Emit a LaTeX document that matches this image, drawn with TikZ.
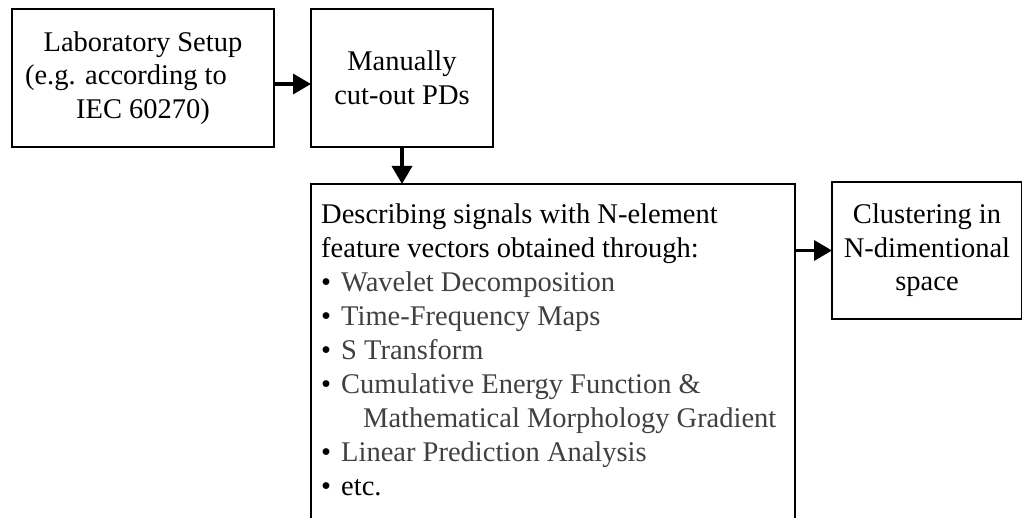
\documentclass[tikz,border=0pt]{standalone}
\usepackage{fontspec}
\setmainfont{Liberation Serif}
\usetikzlibrary{arrows.meta}
\definecolor{itemgray}{HTML}{404040}
\tikzset{
  stagebox/.style={draw, line width=2pt, rectangle, inner sep=0pt, align=center,
    font=\fontsize{28.5}{33.5}\selectfont},
  flow/.style={line width=3.5pt, -{Triangle[length=18pt,width=20pt]}, shorten >=-1pt},
}
\newcommand{\bitem}[1]{\makebox[20pt][l]{\textbullet}{\color{itemgray}#1}}
\begin{document}
\begin{tikzpicture}[x=1pt,y=1pt]
  \clip (0,0) rectangle (1022,-518);
  \fill[white] (0,0) rectangle (1022,-518);

  % upper row
  \node[stagebox, minimum width=262pt, minimum height=138pt] (lab) at (143,-78)
    {Laboratory Setup\\(e.g. according to\rule{34pt}{0pt}\\IEC 60270)};
  \node[stagebox, minimum width=182pt, minimum height=138pt] (cut) at (402,-78)
    {Manually\\cut-out PDs};

  % feature extraction stage (runs past the lower edge)
  \node[draw, line width=2pt, rectangle, inner sep=0pt,
        minimum width=484pt, minimum height=380pt, anchor=north west] (feat) at (310,-183) {};
  \node[anchor=base west, inner sep=0pt] (feattxt) at (321,-224)
    {\parbox[t]{470pt}{\fontsize{28.5}{34}\selectfont
      Describing signals with N-element\\
      feature vectors obtained through:\\
      \bitem{Wavelet Decomposition}\\
      \bitem{Time-Frequency Maps}\\
      \bitem{S Transform}\\
      \bitem{Cumulative Energy Function \&}\\
      \hspace*{42pt}{\color{itemgray}Mathematical Morphology Gradient}\\
      \bitem{Linear Prediction Analysis}\\
      \makebox[20pt][l]{\textbullet}etc.}};

  \node[stagebox, minimum width=190pt, minimum height=137pt, anchor=north west] (clu) at (831,-181)
    {Clustering in\\N-dimentional\\space};

  % connectors
  \coordinate (a1) at (lab.east |- 0,-84);
  \draw[flow] (a1) -- (a1 -| cut.west);
  \draw[flow] (cut.south) -- (cut.south |- feat.north);
  \draw[flow] (feat.east |- clu.west) -- (clu.west);
\end{tikzpicture}
\end{document}
